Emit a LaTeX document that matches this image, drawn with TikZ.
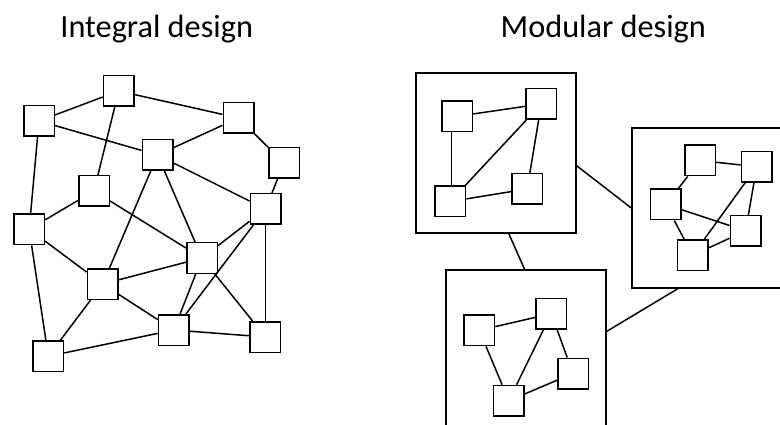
\documentclass[tikz,border=0pt]{standalone}
\usepackage{fontspec}
\setmainfont{Carlito}
\begin{document}
\begin{tikzpicture}[x=1pt,y=-1pt,
  sq/.style={draw, line width=1.5pt, minimum size=30.5pt, inner sep=0pt, fill=white},
  modbox/.style={draw, line width=1.5pt, minimum size=160pt, inner sep=0pt},
  lnk/.style={line width=1.5pt},
  ttl/.style={anchor=base, font=\fontsize{32.3}{38}\selectfont, inner sep=0pt}]
\useasboundingbox (0,0) rectangle (780,425);
\clip (0,0) rectangle (780,425);
% titles
\node[ttl] (t1) at (156.7,37.3) {Integral design};
\node[ttl] (t2) at (603.3,37.3) {Modular design};
% integral design nodes
\node[sq] (A) at (118.7,91) {};
\node[sq] (B) at (39,121) {};
\node[sq] (C) at (238.5,118) {};
\node[sq] (D) at (157.5,155) {};
\node[sq] (E) at (284,163) {};
\node[sq] (F) at (94,191) {};
\node[sq] (G) at (265.5,209) {};
\node[sq] (H) at (29.2,229.3) {};
\node[sq] (I) at (202,258) {};
\node[sq] (J) at (102.7,284) {};
\node[sq] (K) at (173.8,330) {};
\node[sq] (L) at (265.4,337) {};
\node[sq] (M) at (48.3,356.3) {};
\foreach \a/\b in {A/B,A/C,A/F,B/D,C/D,C/E,B/H,D/G,D/J,D/I,F/H,F/I,E/G,G/I,G/K,H/J,H/M,J/I,J/M,J/K,I/K,I/L,K/M,K/L}
  \draw[lnk] (\a) -- (\b);
\draw[lnk] (G.south) -- (G.south |- L.north);
% modules
\node[modbox] (mod1) at (496,153) {};
\node[modbox] (mod2) at (712,208) {};
\node[modbox] (mod3) at (526,350) {};
\draw[lnk] (mod1.-9.2) -- (mod2.west);
\draw[lnk] (mod1.-81.7) -- (mod3.91.9);
\draw[lnk] (mod3.13) -- (mod2.-113);
% module 1
\node[sq] (p1) at (457,116.3) {};
\node[sq] (p2) at (541.3,104) {};
\node[sq] (p3) at (450.3,201.5) {};
\node[sq] (p4) at (527.2,189) {};
\draw[lnk] (p1) -- (p2);
\draw[lnk] (p3.north -| 451.7,0) -- (p1.south -| 451.7,0);
\draw[lnk] (p3) -- (p2);
\draw[lnk] (p4) -- (p2);
\draw[lnk] (p3) -- (p4);
% module 2
\node[sq] (q1) at (700.2,160.5) {};
\node[sq] (q2) at (756.7,166.7) {};
\node[sq] (q3) at (665.8,204.5) {};
\node[sq] (q4) at (745.7,230.8) {};
\node[sq] (q5) at (692.7,255.3) {};
\foreach \a/\b in {q1/q2,q1/q3,q3/q4,q2/q5,q2/q4,q3/q5,q5/q4}
  \draw[lnk] (\a) -- (\b);
% module 3
\node[sq] (r1) at (479.3,330.3) {};
\node[sq] (r2) at (551.3,313.7) {};
\node[sq] (r3) at (573,373.5) {};
\node[sq] (r4) at (508.8,400.7) {};
\foreach \a/\b in {r1/r2,r1/r4,r2/r4,r2/r3,r3/r4}
  \draw[lnk] (\a) -- (\b);
\end{tikzpicture}
\end{document}
